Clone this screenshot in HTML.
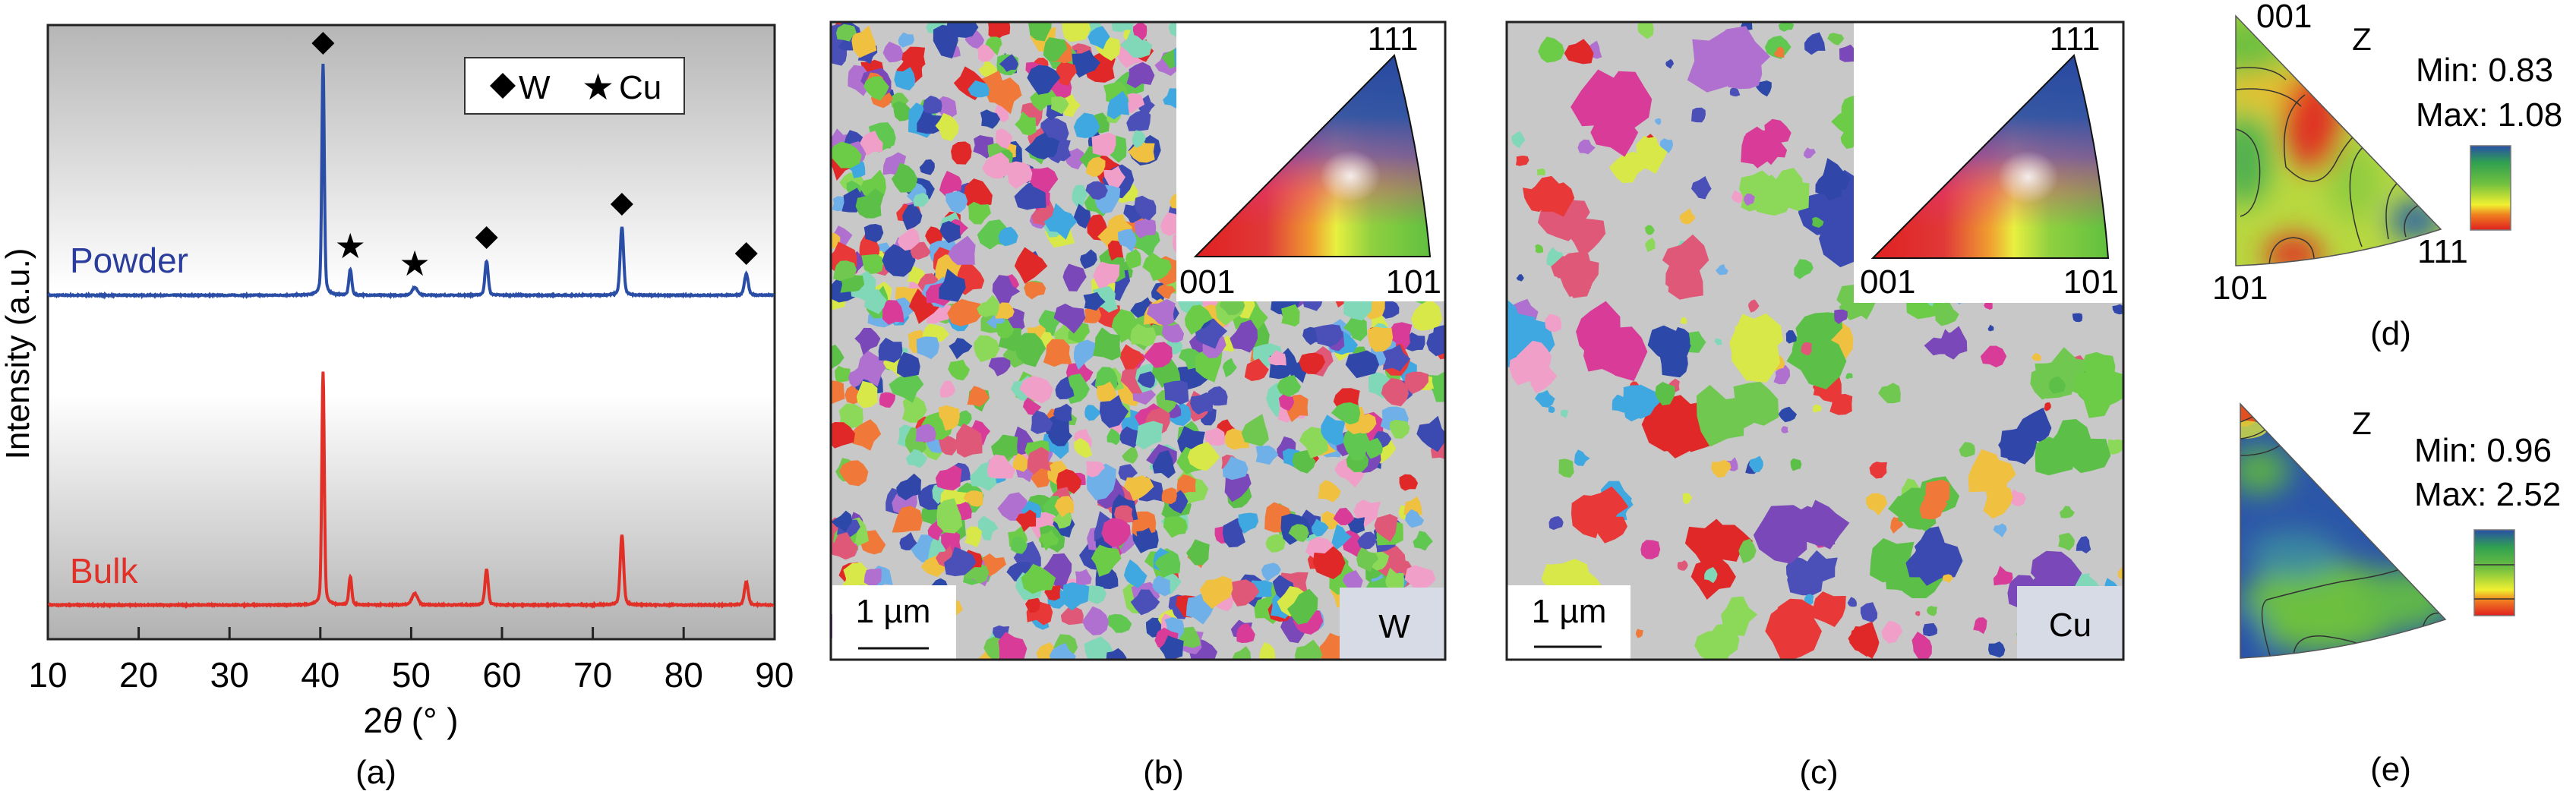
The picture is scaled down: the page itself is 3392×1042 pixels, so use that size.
<!DOCTYPE html>
<html><head><meta charset="utf-8"><style>
html,body{margin:0;padding:0;background:#fff}
svg{display:block}
text{font-family:"Liberation Sans",sans-serif}
</style></head><body>
<svg id="s" xmlns="http://www.w3.org/2000/svg" width="3392" height="1042" viewBox="0 0 3392 1042">
<defs>
<linearGradient id="bg" x1="0" y1="0" x2="0" y2="1">
<stop offset="0" stop-color="#b6b6b6"/><stop offset="0.43" stop-color="#ffffff"/>
<stop offset="0.6" stop-color="#ffffff"/><stop offset="1" stop-color="#b2b2b2"/>
</linearGradient>
<linearGradient id="ipfH" x1="0" y1="0" x2="1" y2="0">
<stop offset="0" stop-color="#e02020"/><stop offset="0.3" stop-color="#e03838"/>
<stop offset="0.5" stop-color="#f0a030"/><stop offset="0.6" stop-color="#e8f040"/><stop offset="0.75" stop-color="#90d040"/><stop offset="1" stop-color="#60c040"/>
</linearGradient>
<linearGradient id="ipfV" x1="0" y1="0" x2="0" y2="1">
<stop offset="0" stop-color="#2848a0" stop-opacity="1"/><stop offset="0.3" stop-color="#3050a8" stop-opacity="0.95"/>
<stop offset="0.5" stop-color="#8040b0" stop-opacity="0.75"/><stop offset="0.68" stop-color="#e03090" stop-opacity="0.35"/><stop offset="0.85" stop-color="#e03090" stop-opacity="0"/>
</linearGradient>
<radialGradient id="ipfW" cx="0.66" cy="0.6" r="0.13"><stop offset="0" stop-color="#fff" stop-opacity="0.85"/><stop offset="1" stop-color="#fff" stop-opacity="0"/></radialGradient>
<linearGradient id="cb" x1="0" y1="0" x2="0" y2="1">
<stop offset="0" stop-color="#2850a8"/><stop offset="0.2" stop-color="#30a050"/><stop offset="0.45" stop-color="#70c040"/>
<stop offset="0.7" stop-color="#f0f030"/><stop offset="0.82" stop-color="#f08020"/><stop offset="1" stop-color="#e02020"/>
</linearGradient>
<clipPath id="cpb"><rect x="1094" y="29" width="809" height="840"/></clipPath>
<clipPath id="cpc"><rect x="1984" y="29" width="812" height="840"/></clipPath>
<clipPath id="cpd"><path d="M2944,21 L3214,302 Q3080,345 2944,350 Z"/></clipPath>
<clipPath id="cpe"><path d="M2950,532 L3220,816 Q3085,860 2950,867 Z"/></clipPath>
<filter id="bl"><feGaussianBlur stdDeviation="18"/></filter>
</defs>

<!-- Panel a -->
<rect x="63" y="33" width="957" height="809" fill="url(#bg)" stroke="#222" stroke-width="3"/>
<g id="ticks" stroke="#222" stroke-width="3"></g>
<path id="pw" fill="none" stroke="#2a4ea6" stroke-width="4"/>
<path id="bk" fill="none" stroke="#e03028" stroke-width="4"/>
<g id="mk" fill="#000"></g>
<rect x="612" y="76" width="289" height="74" fill="#fff" stroke="#333" stroke-width="2"/>
<path d="M645,113 l17,-17 l17,17 l-17,17z" fill="#000"/>
<text x="683" y="130" font-size="44">W</text>
<text x="766" y="131" font-size="48">★</text>
<text x="815" y="130" font-size="44">Cu</text>
<text x="92" y="359" font-size="46" fill="#2a3c9c">Powder</text>
<text x="92" y="768" font-size="46" fill="#e03028">Bulk</text>
<text transform="translate(38,466) rotate(-90)" text-anchor="middle" font-size="44">Intensity (a.u.)</text>
<g id="tl" font-size="46" text-anchor="middle"></g>
<text x="541" y="965" font-size="46" text-anchor="middle">2<tspan font-style="italic">θ</tspan> (° )</text>
<text x="495" y="1032" font-size="44" text-anchor="middle">(a)</text>

<!-- Panel b -->
<rect x="1094" y="29" width="809" height="840" fill="#c8c8c8"/>
<g id="gb" clip-path="url(#cpb)"></g>
<rect x="1549" y="29" width="354" height="368" fill="#fff"/>
<path d="M1574,338 L1836,73 Q1870,200 1883,338 Z" fill="url(#ipfH)"/>
<path d="M1574,338 L1836,73 Q1870,200 1883,338 Z" fill="url(#ipfV)"/>
<path d="M1574,338 L1836,73 Q1870,200 1883,338 Z" fill="url(#ipfW)" stroke="#111" stroke-width="2"/>
<text x="1834" y="66" font-size="44" text-anchor="middle">111</text>
<text x="1553" y="386" font-size="44">001</text>
<text x="1898" y="386" font-size="44" text-anchor="end">101</text>
<rect x="1096" y="771" width="163" height="97" fill="#fff"/>
<text x="1176" y="820" font-size="44" text-anchor="middle">1 µm</text>
<line x1="1130" y1="854" x2="1223" y2="854" stroke="#111" stroke-width="3"/>
<rect x="1764" y="774" width="139" height="94" fill="#d6dbe5"/>
<text x="1836" y="840" font-size="44" text-anchor="middle">W</text>
<rect x="1094" y="29" width="809" height="840" fill="none" stroke="#222" stroke-width="3"/>
<text x="1532" y="1032" font-size="44" text-anchor="middle">(b)</text>

<!-- Panel c -->
<rect x="1984" y="29" width="812" height="840" fill="#c8c8c8"/>
<g id="gc" clip-path="url(#cpc)"></g>
<rect x="2441" y="29" width="355" height="370" fill="#fff"/>
<path d="M2466,340 L2731,73 Q2765,200 2776,340 Z" fill="url(#ipfH)"/>
<path d="M2466,340 L2731,73 Q2765,200 2776,340 Z" fill="url(#ipfV)"/>
<path d="M2466,340 L2731,73 Q2765,200 2776,340 Z" fill="url(#ipfW)" stroke="#111" stroke-width="2"/>
<text x="2732" y="66" font-size="44" text-anchor="middle">111</text>
<text x="2449" y="386" font-size="44">001</text>
<text x="2790" y="386" font-size="44" text-anchor="end">101</text>
<rect x="1985" y="771" width="162" height="97" fill="#fff"/>
<text x="2066" y="820" font-size="44" text-anchor="middle">1 µm</text>
<line x1="2020" y1="852" x2="2109" y2="852" stroke="#111" stroke-width="3"/>
<rect x="2656" y="772" width="139" height="96" fill="#d6dbe5"/>
<text x="2726" y="838" font-size="44" text-anchor="middle">Cu</text>
<rect x="1984" y="29" width="812" height="840" fill="none" stroke="#222" stroke-width="3"/>
<text x="2395" y="1032" font-size="44" text-anchor="middle">(c)</text>

<!-- Panel d -->
<g clip-path="url(#cpd)">
<rect x="2930" y="10" width="300" height="350" fill="#b8d840"/>
<g filter="url(#bl)">
<ellipse cx="2960" cy="60" rx="50" ry="40" fill="#70c040"/>
<ellipse cx="2990" cy="120" rx="60" ry="25" fill="#e8c030"/>
<ellipse cx="2955" cy="210" rx="35" ry="60" fill="#50b050"/>
<ellipse cx="3045" cy="160" rx="38" ry="65" fill="#e03020"/>
<ellipse cx="3020" cy="335" rx="38" ry="25" fill="#e03020"/>
<ellipse cx="3100" cy="240" rx="35" ry="50" fill="#90cc40"/>
<ellipse cx="3180" cy="290" rx="35" ry="25" fill="#2860a8"/>
</g>
<g fill="none" stroke="#333" stroke-width="1.5">
<path d="M2944,90 Q2990,85 3010,105"/><path d="M2944,118 Q3000,112 3030,140"/>
<path d="M2944,170 Q2980,180 2975,240 Q2970,280 2950,285"/>
<path d="M3035,125 Q3000,150 3010,220 Q3050,260 3075,215 Q3090,185 3110,170"/>
<path d="M2988,350 Q2990,315 3020,313 Q3045,315 3047,340"/>
<path d="M3125,185 Q3090,200 3095,260 Q3100,300 3110,325"/>
<path d="M3158,240 Q3135,260 3145,315"/>
<path d="M3185,270 Q3160,285 3168,312"/>
</g>
</g>
<path d="M2944,21 L3214,302 Q3080,345 2944,350 Z" fill="none" stroke="#555" stroke-width="1.5"/>
<text x="2971" y="36" font-size="44">001</text>
<text x="3110" y="66" font-size="42" text-anchor="middle">Z</text>
<text x="3181" y="107" font-size="44">Min: 0.83</text>
<text x="3181" y="166" font-size="44">Max: 1.08</text>
<rect x="3253" y="192" width="53" height="111" fill="url(#cb)" stroke="#777" stroke-width="1.5"/>
<text x="3183" y="346" font-size="44">111</text>
<text x="2913" y="394" font-size="44">101</text>
<text x="3148" y="454" font-size="44" text-anchor="middle">(d)</text>

<!-- Panel e -->
<g clip-path="url(#cpe)">
<rect x="2930" y="520" width="310" height="360" fill="#2c56a8"/>
<g filter="url(#bl)">
<ellipse cx="3060" cy="800" rx="110" ry="60" fill="#6cc040"/>
<ellipse cx="3170" cy="790" rx="60" ry="40" fill="#60b848"/>
<ellipse cx="2975" cy="620" rx="40" ry="30" fill="#5cb048"/>
<ellipse cx="3020" cy="730" rx="60" ry="30" fill="#3a88a0"/>
<ellipse cx="2965" cy="840" rx="18" ry="40" fill="#2850a8"/>
</g>
<ellipse cx="2955" cy="548" rx="18" ry="14" fill="#e05020"/>
<ellipse cx="2955" cy="566" rx="30" ry="12" fill="#d8e040" opacity="0.8"/>
<g fill="none" stroke="#333" stroke-width="1.5">
<path d="M2950,556 Q2965,550 2975,545"/><path d="M2950,578 Q2975,575 2990,560"/>
<path d="M2950,600 Q2990,600 3010,580"/>
<path d="M2990,867 Q2970,800 2985,790 Q3060,770 3090,765 Q3130,760 3160,750"/>
<path d="M3020,867 Q3020,835 3060,838 Q3110,845 3115,855"/>
<path d="M3190,828 Q3195,805 3215,808"/>
</g>
</g>
<path d="M2950,532 L3220,816 Q3085,860 2950,867 Z" fill="none" stroke="#555" stroke-width="1.5"/>
<text x="3110" y="572" font-size="42" text-anchor="middle">Z</text>
<text x="3179" y="608" font-size="44">Min: 0.96</text>
<text x="3179" y="666" font-size="44">Max: 2.52</text>
<rect x="3258" y="698" width="53" height="113" fill="url(#cb)" stroke="#777" stroke-width="1.5"/>
<line x1="3258" y1="744" x2="3311" y2="744" stroke="#333" stroke-width="1.5"/>
<line x1="3258" y1="789" x2="3311" y2="789" stroke="#333" stroke-width="1.5"/>
<text x="3148" y="1028" font-size="44" text-anchor="middle">(e)</text>
</svg>
<script>
(function(){
var NS="http://www.w3.org/2000/svg";
function X(t){return 63+(t-10)*119.6/10;}
var tk=document.getElementById('ticks'),tl=document.getElementById('tl');
for(var v=10;v<=90;v+=10){var x=X(v);
 if(v>10&&v<90){var l=document.createElementNS(NS,'line');l.setAttribute('x1',x);l.setAttribute('x2',x);l.setAttribute('y1',842);l.setAttribute('y2',826);tk.appendChild(l);}
 var t=document.createElementNS(NS,'text');t.setAttribute('x',x);t.setAttribute('y',905);t.textContent=v;tl.appendChild(t);}
var seed=7;function R(){seed=(seed*16807)%2147483647;return seed/2147483647;}
var peaks=[40.3,43.3,50.4,58.3,73.2,86.9];
function spec(base,h,w){var d='';for(var t=10.1;t<=89.9;t+=0.05){var y=0;for(var i=0;i<peaks.length;i++){var g=(t-peaks[i])/w[i];y+=h[i]*(0.85*Math.exp(-g*g/2)+0.15/(1+g*g/4));}
 y+= (R()-0.5)*1.4;d+=(d?'L':'M')+X(t).toFixed(1)+','+(base-y).toFixed(1);}return d;}
document.getElementById('pw').setAttribute('d',spec(389,[305,34,10,45,90,28],[0.13,0.15,0.3,0.17,0.18,0.2]));
document.getElementById('bk').setAttribute('d',spec(797,[307,37,15,47,92,30],[0.13,0.15,0.3,0.17,0.18,0.2]));
var mk=document.getElementById('mk');
function dia(x,y){var p=document.createElementNS(NS,'path');p.setAttribute('d','M'+(x-15)+','+y+'l15,-15l15,15l-15,15z');mk.appendChild(p);}
function star(x,y){var t=document.createElementNS(NS,'text');t.setAttribute('x',x);t.setAttribute('y',y+15);t.setAttribute('font-size','46');t.setAttribute('text-anchor','middle');t.textContent='★';mk.appendChild(t);}
dia(X(40.3),57);star(X(43.3),325);star(X(50.4),348);dia(X(58.3),313);dia(X(73.2),269);dia(X(86.9),334);
var pal=['#e02828','#2c48a8','#5cc048','#d83c98','#7a48b8','#40a8e0','#f07838','#80d8b8','#d8e848','#e05878','#4a50b8','#8cd858','#f0a0c8','#70c850','#b070d0','#f0c040','#70b0e8','#e83838','#3046a8','#60c850','#3a4ab0','#6ccc48'];
function blob(g,cx,cy,r,col){var n=10,d='';for(var i=0;i<n;i++){var a=i/n*6.283,rr=r*(0.7+0.5*R());d+=(i?'L':'M')+(cx+rr*Math.cos(a)).toFixed(1)+','+(cy+rr*Math.sin(a)*(0.8+0.4*R())).toFixed(1);}
 var p=document.createElementNS(NS,'path');p.setAttribute('d',d+'Z');p.setAttribute('fill',col||pal[Math.floor(R()*pal.length)]);g.appendChild(p);}
var gb=document.getElementById('gb');
for(var i=0;i<950;i++){blob(gb,1094+R()*809,29+R()*840,11+R()*10);}
var gc=document.getElementById('gc');
for(var i=0;i<220;i++){var cx=1984+R()*812,cy=29+R()*840,r=R()<0.3?22+R()*22:5+R()*13,col=pal[Math.floor(R()*pal.length)];
 var k=r>18?3:1;for(var j=0;j<k;j++){blob(gc,cx+(R()-0.5)*r*1.4,cy+(R()-0.5)*r*1.4,r*(0.6+0.4*R()),col);}}
})();
</script>
</body></html>
